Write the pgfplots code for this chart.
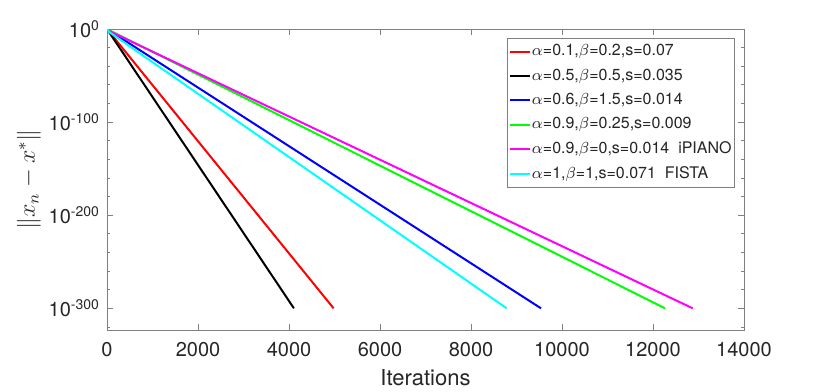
\documentclass[border=0pt]{standalone}
\usepackage{fontspec}
\setmainfont{TeX Gyre Heros}
\usepackage{pgfplots}
\pgfplotsset{compat=1.18}
\definecolor{axgray}{gray}{0.5}
\definecolor{txt}{gray}{0.15}
\definecolor{mred}{rgb}{1,0,0}
\definecolor{mblue}{rgb}{0,0,1}
\definecolor{mgreen}{rgb}{0,1,0}
\definecolor{mmag}{rgb}{1,0,1}
\definecolor{mcyan}{rgb}{0,1,1}

\begin{document}
\begin{tikzpicture}
\begin{axis}[
    scale only axis,
    width=318.5pt, height=150.5pt,
    xmin=0, xmax=14000,
    ymode=log, ymin=5e-324, ymax=1,
    scaled x ticks=false,
    xtick={0,2000,4000,6000,8000,10000,12000,14000},
    xticklabels={0,2000,4000,6000,8000,10000,12000,14000},
    ytick={1e-300,1e-200,1e-100,1},
    yticklabels={10\textsuperscript{-300},10\textsuperscript{-200},10\textsuperscript{-100},10\textsuperscript{0}},
    minor ytick={1e-320,1e-280,1e-260,1e-240,1e-220,1e-180,1e-160,1e-140,1e-120,1e-80,1e-60,1e-40,1e-20},
    tick align=inside,
    major tick length=3pt, minor tick length=1.5pt,
    axis line style={axgray}, every tick/.style={axgray},
    tick label style={font=\fontsize{10}{12}\selectfont, text=txt},
    xticklabel style={yshift=-2.5pt},
    xlabel={Iterations},
    ylabel={$\|x_n-x^*\|$},
    xlabel style={font=\fontsize{11}{13}\selectfont, text=txt, at={(axis description cs:0.5,0)}, anchor=center, yshift=-24pt},
    ylabel style={font=\fontsize{11.5}{13}\selectfont, text=txt, at={(axis description cs:0,0.5)}, anchor=center, yshift=39pt},
    legend cell align=left,
    legend style={at={(axis description cs:1,1)}, anchor=north east, xshift=-4.5pt, yshift=-4.5pt,
        draw=axgray, text=txt, font=\fontsize{8}{9.6}\selectfont,
        inner sep=1pt, row sep=1pt, nodes={inner xsep=0.5pt}},
    legend image code/.code={\draw[#1, line width=1pt] (0pt,0pt) -- (10pt,0pt);},
    every axis plot/.append style={line width=1pt},
]
\addplot[mred] coordinates {(0,1) (4980,1e-300)};
\addplot[black] coordinates {(0,1) (4108,1e-300)};
\addplot[mblue] coordinates {(0,1) (9538,1e-300)};
\addplot[mgreen] coordinates {(0,1) (12265,1e-300)};
\addplot[mmag] coordinates {(0,1) (40,1e-2) (12873,1e-300)};
\addplot[mcyan] coordinates {(0,1) (40,1e-3) (8784,1e-300)};
\legend{{$\alpha$=0.1,$\beta$=0.2,s=0.07},
        {$\alpha$=0.5,$\beta$=0.5,s=0.035},
        {$\alpha$=0.6,$\beta$=1.5,s=0.014},
        {$\alpha$=0.9,$\beta$=0.25,s=0.009},
        {$\alpha$=0.9,$\beta$=0,s=0.014\ \ iPIANO\hspace{-3.5pt}},
        {$\alpha$=1,$\beta$=1,s=0.071\ \ FISTA}}
\coordinate (O) at (rel axis cs:0,0);
\end{axis}
\pgfresetboundingbox
\path (O) ++(-53.5pt,-30.5pt) rectangle ++(411pt,195.5pt);
\end{tikzpicture}
\end{document}
